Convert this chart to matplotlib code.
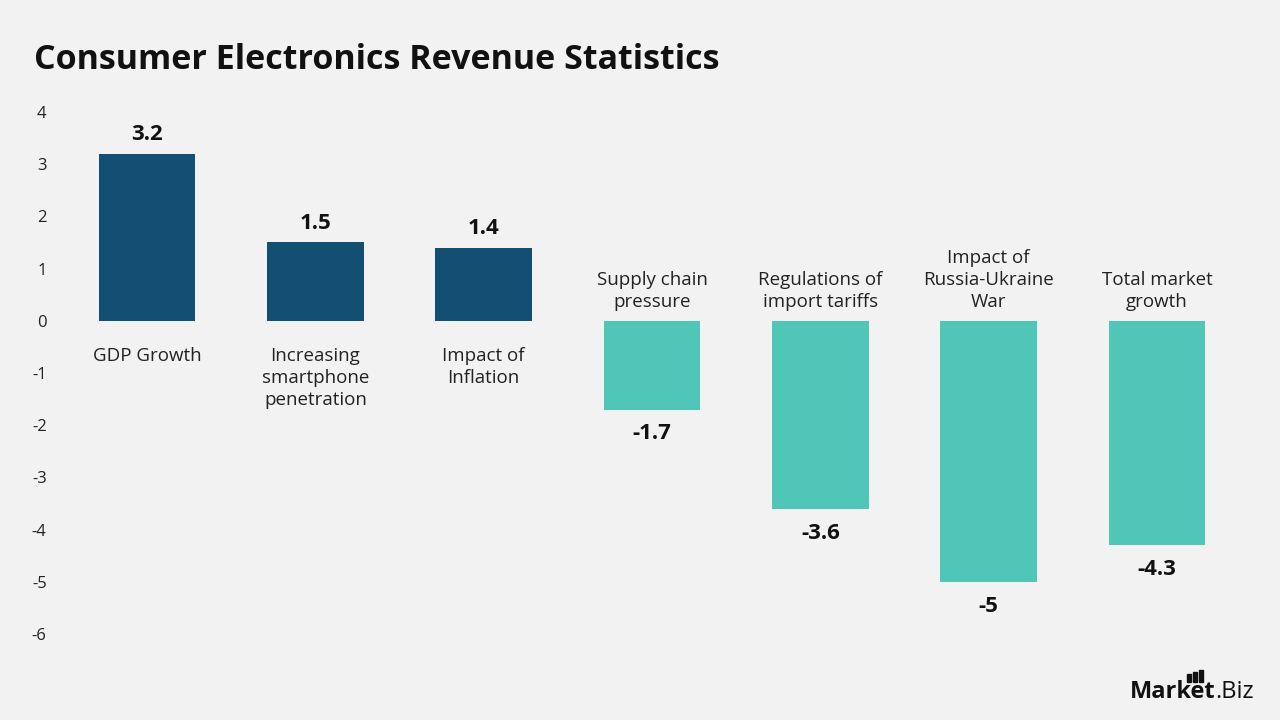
import matplotlib.pyplot as plt
from matplotlib.patches import Rectangle

plt.rcParams['font.family'] = ['Open Sans', 'DejaVu Sans']

categories = ["GDP Growth", "Increasing\nsmartphone\npenetration", "Impact of\nInflation",
              "Supply chain\npressure", "Regulations of\nimport tariffs",
              "Impact of\nRussia-Ukraine\nWar", "Total market\ngrowth"]
values = [3.2, 1.5, 1.4, -1.7, -3.6, -5, -4.3]
value_labels = ["3.2", "1.5", "1.4", "-1.7", "-3.6", "-5", "-4.3"]
yticks = [4, 3, 2, 1, 0, -1, -2, -3, -4, -5, -6]

bg = '#F2F2F2'
pos_col = '#134F73'
neg_col = '#50C6B9'

fig = plt.figure(figsize=(12.8, 7.2), dpi=100, facecolor=bg)
ax = fig.add_axes([55 / 1280, (720 - 634) / 720, (1240 - 55) / 1280, (634 - 112) / 720])
ax.set_facecolor(bg)

x = list(range(len(values)))
colors = [pos_col if v > 0 else neg_col for v in values]
ax.bar(x, values, width=0.575, color=colors)

ax.set_xlim(-0.547, 6.493)
ax.set_ylim(-6, 4)
ax.set_yticks(yticks)
ax.set_yticklabels([str(t) for t in yticks], fontsize=12, color='#222222')
ax.tick_params(axis='y', length=0, pad=6)
ax.set_xticks([])
for s in ax.spines.values():
    s.set_visible(False)

for i, v in enumerate(values):
    if v > 0:
        ax.annotate(value_labels[i], (i, v), xytext=(0, 6), textcoords='offset points',
                    ha='center', va='bottom', fontsize=16, fontweight='bold', color='#111111')
        ax.annotate(categories[i], (i, 0), xytext=(0, -19), textcoords='offset points',
                    ha='center', va='top', fontsize=13.5, color='#222222', linespacing=1.28)
    else:
        ax.annotate(value_labels[i], (i, v), xytext=(0, -10), textcoords='offset points',
                    ha='center', va='top', fontsize=16, fontweight='bold', color='#111111')
        ax.annotate(categories[i], (i, 0), xytext=(0, 7), textcoords='offset points',
                    ha='center', va='bottom', fontsize=13.5, color='#222222', linespacing=1.28)

fig.text(34 / 1280, 1 - 60 / 720, "Consumer Electronics Revenue Statistics",
         fontsize=24.5, fontweight='bold', color='#111111', va='center', ha='left')

# logo
fig.text(1130 / 1280, 1 - 692 / 720, "Market", fontsize=17, fontweight='bold',
         color='#111111', va='center', ha='left')
fig.text(1215 / 1280, 1 - 692 / 720, ".Biz", fontsize=17, color='#111111',
         va='center', ha='left')
for k, h in enumerate([8, 10, 12]):
    fig.add_artist(Rectangle(((1187 + k * 6) / 1280, 1 - 682 / 720), 3.5 / 1280, h / 720,
                             transform=fig.transFigure, color='#111111'))

fig.savefig('out.png', dpi=100, facecolor=bg)
